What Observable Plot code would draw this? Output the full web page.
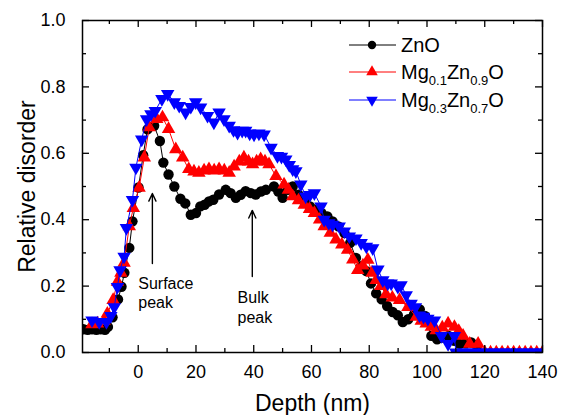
<!DOCTYPE html>
<html><head><meta charset="utf-8">
<script src="https://cdn.jsdelivr.net/npm/d3@7"></script>
<script src="https://cdn.jsdelivr.net/npm/@observablehq/plot@0.6"></script>
<style>
body{margin:0;background:#fff;}
#chart{position:relative;width:565px;height:415px;font-family:"Liberation Sans",Arial,sans-serif;}
</style>
</head><body><div id="chart"></div>
<script>
// ---- data ----
const znoX = [-19,-17.5,-16,-14.5,-13,-11.5,-10.5,-8.9,-7,-5.8,-4.8,-3.1,-2,0.1,1.7,3.2,5.5,7.5,8.7,10.5,12.5,14.6,16.3,18.2,20,21.5,23,24.5,26,28,30.3,32,33.8,35.5,37.2,39,40.7,42.5,44.2,47,48.5,50,51.8,53.5,55.5,57.5,59.5,61.5,63.5,65.5,67.3,69.3,71.4,73.4,75.4,77.2,79,80.6,82.4,84.3,86.2,88.1,89.9,91.6,93.5,95.5,97.5,99.3,101.5,103.5,105.5,107.5,109.5,111.3,113.3,115.3,117.3];
const znoY = [0.07,0.068,0.07,0.068,0.07,0.068,0.077,0.106,0.16,0.198,0.24,0.315,0.395,0.497,0.594,0.672,0.683,0.637,0.572,0.536,0.50,0.463,0.449,0.415,0.42,0.44,0.445,0.455,0.46,0.476,0.49,0.48,0.466,0.475,0.486,0.48,0.476,0.485,0.49,0.50,0.485,0.466,0.49,0.50,0.475,0.455,0.44,0.43,0.42,0.41,0.395,0.38,0.36,0.33,0.285,0.26,0.245,0.208,0.178,0.16,0.14,0.122,0.112,0.092,0.10,0.115,0.13,0.11,0.05,0.04,0.045,0.05,0.035,0.026,0.028,0.03,0.02];

const mg01X = [-16,-14.1,-11.8,-10.7,-8.7,-7.2,-6,-4.9,-3.1,-1.7,0.3,2.1,3.8,6.4,8.4,10.5,13,15.4,17.5,19.3,21,22.8,24.5,26.3,28,29.8,31.5,33.2,35,36.6,38.2,39.6,41,42.4,43.9,45.3,47.7,50.5,52,53.5,55.5,57.5,59.3,61,62.8,64.4,66.5,68.5,70.5,72.5,74.3,76,77.8,79.5,81,82.4,84,85.8,88,90.5,93.4,96.3,98,99.7,101.5,103.2,105.3,107.3,109.5,111,112.5,114.8,117.7,120,122,124,126,128,130,132,134,136,138,140];
const mg01Y = [0.085,0.087,0.095,0.117,0.158,0.213,0.24,0.27,0.38,0.435,0.496,0.587,0.678,0.703,0.708,0.673,0.612,0.587,0.552,0.545,0.541,0.548,0.552,0.548,0.552,0.548,0.541,0.56,0.575,0.587,0.575,0.567,0.575,0.582,0.575,0.567,0.531,0.506,0.49,0.47,0.458,0.445,0.432,0.42,0.40,0.38,0.36,0.34,0.325,0.309,0.28,0.248,0.262,0.279,0.24,0.218,0.2,0.175,0.165,0.158,0.137,0.107,0.095,0.087,0.077,0.067,0.075,0.087,0.077,0.065,0.05,0.026,0.026,0,0,0,0,0,0,0,0,0,0,0];

const mg03X = [-16,-13.5,-11,-9.5,-8.3,-7.2,-6.3,-4.9,-4.1,-2,-0.8,1.2,2.9,4.4,5.9,8.2,10.2,12.5,14.2,16.4,18.2,19.9,21.6,24,26.2,28,29.7,31.5,33,34.4,36,37.2,38.6,40.1,41.8,43.6,46,48.2,49.6,51.1,52.3,53.5,54.6,56.3,58,59.5,61,63.3,64.4,66,67.3,69.6,71.4,73.1,75.4,77.2,79,81.2,83,84.7,86.4,87.6,89.9,91,92.8,94.5,96,97.4,98.8,100.3,102.6,105,107.3,109.5,110,112,114,116,118,120,122,124,126,128,130,132,134,136,138,140];
const mg03Y = [0.097,0.092,0.092,0.11,0.137,0.198,0.248,0.289,0.375,0.46,0.557,0.642,0.703,0.718,0.728,0.764,0.779,0.754,0.743,0.723,0.74,0.754,0.738,0.713,0.693,0.723,0.703,0.683,0.67,0.662,0.668,0.668,0.66,0.657,0.66,0.657,0.617,0.592,0.59,0.582,0.565,0.552,0.546,0.506,0.47,0.475,0.48,0.44,0.40,0.39,0.385,0.38,0.365,0.35,0.344,0.33,0.319,0.314,0.25,0.218,0.208,0.208,0.198,0.203,0.173,0.147,0.137,0.112,0.108,0.102,0.097,0.05,0.026,0.05,0,0,0,0,0,0,0,0,0,0,0,0,0,0,0,0];

const seriesKeys = ["ZnO","Mg0.1Zn0.9O","Mg0.3Zn0.7O"];
const seriesLabelParts = [
  [["ZnO",false]],
  [["Mg",false],["0.1",true],["Zn",false],["0.9",true],["O",false]],
  [["Mg",false],["0.3",true],["Zn",false],["0.7",true],["O",false]]
];
const seriesColors = ["#000000","#ff0000","#0000ff"];

const xDomain = [-19.3, 140];
const yDomain = [0, 1];
const xMajorTicks = [0,20,40,60,80,100,120,140];
const xMinorTicks = [-10,10,30,50,70,90,110,130];
const yMajorTicks = [0,0.2,0.4,0.6,0.8,1.0];
const yMinorTicks = [0.1,0.3,0.5,0.7,0.9];
const xTitle = "Depth (nm)";
const yTitle = "Relative disorder";

const annoLabels = ["Surface\npeak","Bulk\npeak"];
const annoTextX = [0, 34.4];
const annoTextY = [0.234, 0.19];
const arrowX = [4.9, 39.5];
const arrowFromY = [0.268, 0.229];
const arrowToY = [0.479, 0.428];

// ---- build tables ----
const toRows = (xs, ys, s) => xs.map((x, i) => ({x, y: ys[i], s}));
const zno = toRows(znoX, znoY, seriesKeys[0]);
const mg01 = toRows(mg01X, mg01Y, seriesKeys[1]);
const mg03 = toRows(mg03X, mg03Y, seriesKeys[2]);
const annos = annoLabels.map((t, i) => ({t, x: annoTextX[i], y: annoTextY[i]}));
const arrows = arrowX.map((x, i) => ({x, y1: arrowFromY[i], y2: arrowToY[i]}));

const W = 565, H = 415, mL = 82, mR = 23, mT = 20, mB = 63;
const plotW = W - mL - mR, plotH = H - mT - mB;
const majorLen = 7, minorLen = 4;

const triDown = {
  draw(context, size) {
    const y = -Math.sqrt(size / (Math.sqrt(3) * 3));
    context.moveTo(0, -2 * y);
    context.lineTo(-Math.sqrt(3) * y, y);
    context.lineTo(Math.sqrt(3) * y, y);
    context.closePath();
  }
};

const tickStyle = {stroke: "black", strokeWidth: 1.3};

const svg = Plot.plot({
  width: W, height: H,
  marginLeft: mL, marginRight: mR, marginTop: mT, marginBottom: mB,
  style: {fontFamily: '"Liberation Sans", Arial, sans-serif', background: "white", color: "black"},
  x: {domain: xDomain},
  y: {domain: yDomain},
  marks: [
    Plot.line(zno, {x: "x", y: "y", stroke: seriesColors[0], strokeWidth: 1, clip: true}),
    Plot.dot(zno, {x: "x", y: "y", r: 5.2, fill: seriesColors[0], symbol: "circle", clip: true}),
    Plot.line(mg01, {x: "x", y: "y", stroke: seriesColors[1], strokeWidth: 1, clip: true}),
    Plot.dot(mg01, {x: "x", y: "y", r: 5, fill: seriesColors[1], symbol: "triangle", clip: true}),
    Plot.line(mg03, {x: "x", y: "y", stroke: seriesColors[2], strokeWidth: 1, clip: true}),
    Plot.dot(mg03, {x: "x", y: "y", r: 5, fill: seriesColors[2], symbol: triDown, clip: true}),
    // inward ticks on all four sides
    Plot.tickX(xMajorTicks, {x: d => d, insetTop: plotH - majorLen, ...tickStyle}),
    Plot.tickX(xMajorTicks, {x: d => d, insetBottom: plotH - majorLen, ...tickStyle}),
    Plot.tickX(xMinorTicks, {x: d => d, insetTop: plotH - minorLen, ...tickStyle}),
    Plot.tickX(xMinorTicks, {x: d => d, insetBottom: plotH - minorLen, ...tickStyle}),
    Plot.tickY(yMajorTicks, {y: d => d, insetRight: plotW - majorLen, ...tickStyle}),
    Plot.tickY(yMajorTicks, {y: d => d, insetLeft: plotW - majorLen, ...tickStyle}),
    Plot.tickY(yMinorTicks, {y: d => d, insetRight: plotW - minorLen, ...tickStyle}),
    Plot.tickY(yMinorTicks, {y: d => d, insetLeft: plotW - minorLen, ...tickStyle}),
    Plot.frame({stroke: "black", strokeWidth: 1.5}),
    Plot.axisX(xMajorTicks, {anchor: "bottom", tickSize: 0, tickPadding: 13, fontSize: 18, label: null, tickFormat: d => String(d)}),
    Plot.axisY(yMajorTicks, {anchor: "left", tickSize: 0, tickPadding: 17, fontSize: 18, label: null, tickFormat: d => d.toFixed(1)}),
    Plot.text([xTitle], {text: d => d, frameAnchor: "bottom", textAnchor: "middle", lineAnchor: "middle", dy: 51, fontSize: 23, fill: "black"}),
    Plot.text([yTitle], {text: d => d, frameAnchor: "left", textAnchor: "middle", lineAnchor: "middle", dx: -55, rotate: -90, fontSize: 23, fill: "black"}),
    Plot.text(annos, {x: "x", y: "y", text: "t", textAnchor: "start", lineAnchor: "top", lineHeight: 1.22, fontSize: 16, fill: "black"}),
    Plot.arrow(arrows, {x1: "x", x2: "x", y1: "y1", y2: "y2", stroke: "black", strokeWidth: 1.4, headLength: 9, headAngle: 50})
  ]
});

// ---- legend (inside plot area, top right) ----
const lg = d3.select(svg).append("g")
  .attr("font-family", '"Liberation Sans", Arial, sans-serif')
  .attr("text-anchor", "start");
const legendRowsY = [45, 72, 100];
const lx1 = 349, lx2 = 396, lmx = 372, ltx = 401;
seriesKeys.forEach((k, i) => {
  const cy = legendRowsY[i];
  lg.append("line").attr("x1", lx1).attr("x2", lx2).attr("y1", cy).attr("y2", cy)
    .attr("stroke", seriesColors[i]).attr("stroke-width", 1);
  const sym = i === 0 ? d3.symbolCircle : i === 1 ? d3.symbolTriangle : triDown;
  const size = i === 0 ? Math.PI * 4.2 * 4.2 : Math.PI * 4.3 * 4.3;
  lg.append("path").attr("d", d3.symbol(sym, size)()).attr("transform", `translate(${lmx},${cy})`)
    .attr("fill", seriesColors[i]);
  const t = lg.append("text").attr("x", ltx).attr("y", cy + 7).attr("font-size", 20)
    .attr("fill", "black").attr("text-anchor", "start");
  let shifted = false;
  seriesLabelParts[i].forEach(([txt, sub]) => {
    const ts = t.append("tspan").text(txt);
    if (sub) { ts.attr("font-size", 13).attr("dy", 6); shifted = true; }
    else if (shifted) { ts.attr("dy", -6); shifted = false; }
  });
});

document.getElementById("chart").appendChild(svg);
</script>
</body></html>
